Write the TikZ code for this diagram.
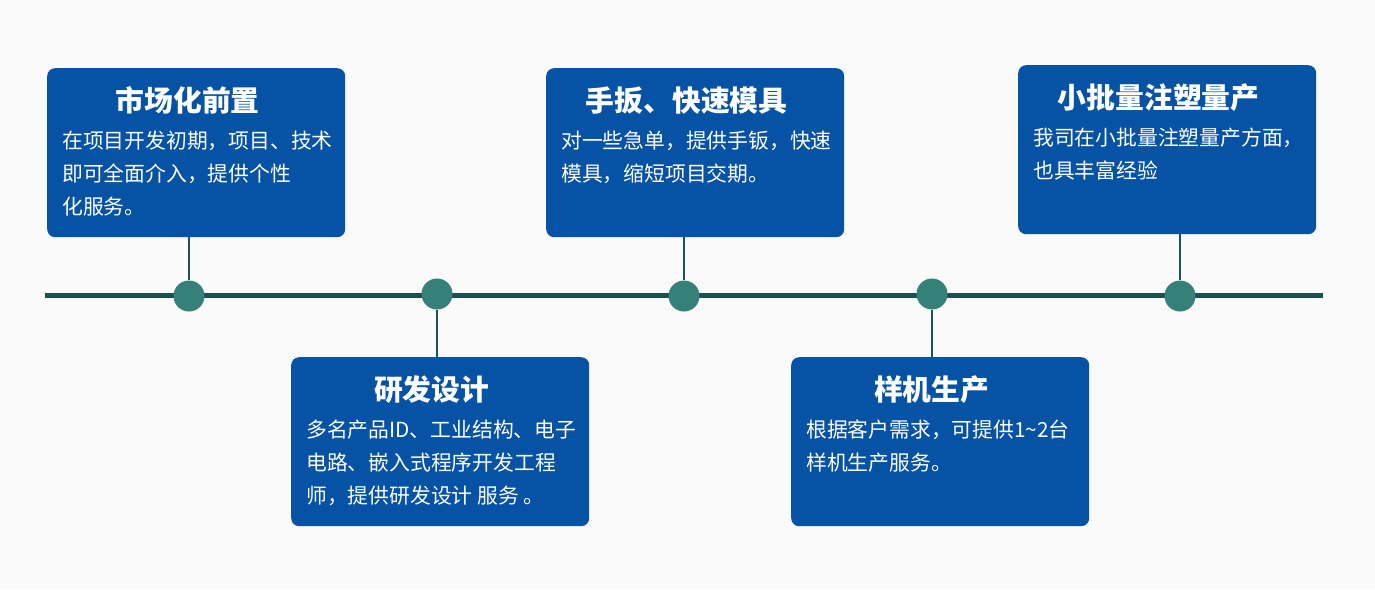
\documentclass[tikz,border=0pt]{standalone}
\usepackage{fontspec}
\setmainfont{Noto Sans CJK SC}
\usetikzlibrary{calc}
\definecolor{bgc}{HTML}{FAFAFA}
\definecolor{boxblue}{HTML}{0652A4}
\definecolor{dotteal}{HTML}{35817A}
\definecolor{tlc}{HTML}{1D4E50}
\definecolor{linkc}{HTML}{1E5055}
\begin{document}
\begin{tikzpicture}[x=1pt,y=-1pt,
  card/.style={fill=boxblue, rounded corners=8pt, minimum width=298pt, minimum height=169pt, inner sep=0pt, anchor=north west},
  dot/.style={circle, fill=dotteal, minimum size=31pt, inner sep=0pt},
  ttl/.style={text=white, font=\fontsize{28.8}{30}\selectfont\bfseries, anchor=base, inner sep=0pt},
  txt/.style={text=white, font=\fontsize{20.8}{24}\selectfont, anchor=base west, inner sep=0pt},
  link/.style={draw=linkc, line width=1.2pt},
  tline/.style={draw=tlc, line width=5pt}]
\fill[bgc] (0,0) rectangle (1375,589);
\useasboundingbox (0,0) rectangle (1375,589);
% timeline
\coordinate (tlL) at (45,295.5);
\coordinate (tlR) at (1323,295.5);
\draw[tline] (tlL) -- (tlR);
% boxes
\node[card] (b1) at (47,68) {};
\node[card] (b2) at (291,357) {};
\node[card] (b3) at (546,68) {};
\node[card] (b4) at (791,357) {};
\node[card] (b5) at (1018,65) {};
% dots
\node[dot] (c1) at (189,296) {};
\node[dot] (c2) at (437,294) {};
\node[dot] (c3) at (684,296) {};
\node[dot] (c4) at (932,294) {};
\node[dot] (c5) at (1180,296) {};
% connectors
\draw[link] (c1.north) -- (c1 |- b1.south);
\draw[link] (c2.south) -- (c2 |- b2.north);
\draw[link] (c3.north) -- (c3 |- b3.south);
\draw[link] (c4.south) -- (c4 |- b4.north);
\draw[link] (c5.north) -- (c5 |- b5.south);
% box 1
\node[ttl] (t1) at ($(b1.north)+(-8.5,43)$) {市场化前置};
\node[txt] (t1a) at ($(b1.north west)+(15,80)$) {在项目开发初期，项目、技术};
\node[txt] (t1b) at ($(b1.north west)+(15,113)$) {即可全面介入，提供个性};
\node[txt] (t1c) at ($(b1.north west)+(15,146)$) {化服务。};
% box 2
\node[ttl] (t2) at ($(b2.north)+(-8.5,43)$) {研发设计};
\node[txt] (t2a) at ($(b2.north west)+(15,80)$) {多名产品ID、工业结构、电子};
\node[txt] (t2b) at ($(b2.north west)+(15,113)$) {电路、嵌入式程序开发工程};
\node[txt] (t2c) at ($(b2.north west)+(15,146)$) {师，提供研发设计 服务 。};
% box 3
\node[ttl] (t3) at ($(b3.north)+(-8.5,43)$) {手扳、快速模具};
\node[txt] (t3a) at ($(b3.north west)+(15,80)$) {对一些急单，提供手钣，快速};
\node[txt] (t3b) at ($(b3.north west)+(15,113)$) {模具，缩短项目交期。};
% box 4
\node[ttl] (t4) at ($(b4.north)+(-8.5,43)$) {样机生产};
\node[txt] (t4a) at ($(b4.north west)+(15,80)$) {根据客户需求，可提供1\textasciitilde 2台};
\node[txt] (t4b) at ($(b4.north west)+(15,113)$) {样机生产服务。};
% box 5
\node[ttl] (t5) at ($(b5.north)+(-8.5,43)$) {小批量注塑量产};
\node[txt] (t5a) at ($(b5.north west)+(15,80)$) {我司在小批量注塑量产方面，};
\node[txt] (t5b) at ($(b5.north west)+(15,113)$) {也具丰富经验};
\end{tikzpicture}
\end{document}
